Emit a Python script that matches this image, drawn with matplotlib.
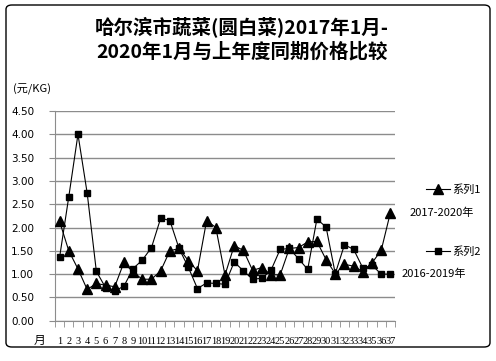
import matplotlib
matplotlib.use("Agg")
import matplotlib.pyplot as plt
from matplotlib.lines import Line2D
from matplotlib.patches import FancyBboxPatch
import numpy as np

plt.rcParams['font.family'] = ['Noto Sans CJK SC', 'DejaVu Sans']

categories = [str(i) for i in range(1, 38)]
series1 = [2.13, 1.50, 1.11, 0.67, 0.80, 0.76, 0.73, 1.25, 1.04, 0.89,
           0.89, 1.07, 1.50, 1.55, 1.29, 1.07, 2.15, 2.00, 0.98, 1.61,
           1.51, 1.08, 1.14, 0.99, 0.98, 1.55, 1.57, 1.69, 1.70, 1.31,
           1.01, 1.21, 1.17, 1.05, 1.24, 1.51, 2.32]
series2 = [1.36, 2.66, 4.00, 2.74, 1.06, 0.71, 0.64, 0.74, 1.12, 1.30,
           1.57, 2.20, 2.15, 1.55, 1.15, 0.69, 0.81, 0.80, 0.78, 1.26,
           1.07, 0.89, 0.91, 1.08, 1.53, 1.55, 1.33, 1.10, 2.18, 2.01,
           1.01, 1.63, 1.53, 1.13, 1.19, 1.00, 1.00]
yticks = [0.0, 0.5, 1.0, 1.5, 2.0, 2.5, 3.0, 3.5, 4.0, 4.5]
title = "哈尔滨市蔬菜(圆白菜)2017年1月-\n2020年1月与上年度同期价格比较"
name1, name2 = "系列1", "系列2"
label1, label2 = "2017-2020年", "2016-2019年"

W, H = 496, 361
fig = plt.figure(figsize=(W / 100, H / 100), dpi=100)
ax = fig.add_axes([55 / W, (H - 320.7) / H, 340 / W, 209.7 / H])

x = np.arange(1, len(categories) + 1)
l1, = ax.plot(x, series1, color='black', lw=0.8, marker='^', markersize=6.5,
              markerfacecolor='black', markeredgecolor='black', zorder=3)
l2, = ax.plot(x, series2, color='black', lw=0.8, marker='s', markersize=5,
              markerfacecolor='black', markeredgecolor='black', zorder=3)

ax.set_xlim(0.5, len(categories) + 0.5)
ax.set_ylim(0, 4.5)
ax.set_yticks(yticks)
ax.set_yticklabels([f"{v:.2f}" for v in yticks], fontsize=7.5, family='DejaVu Sans')
ax.yaxis.grid(True, color='#8c8c8c', lw=1)
ax.set_axisbelow(True)
ax.set_xticks(x)
ax.set_xticklabels(categories, fontsize=7.5, family='Liberation Serif')
ax.set_xticks(np.arange(0.5, len(categories) + 1), minor=True)
ax.tick_params(axis='x', which='major', length=0, pad=12)
ax.tick_params(axis='x', which='minor', length=4, color='#8c8c8c', direction='out')
ax.tick_params(axis='y', length=4, color='#8c8c8c', pad=11)
for s in ['top', 'right']:
    ax.spines[s].set_visible(False)
for s in ['left', 'bottom']:
    ax.spines[s].set_color('#8c8c8c')
ax.text(-0.6, -0.42, "月", transform=ax.transData, fontsize=8.5, ha='right', va='center')

ax.annotate(label1, (x[-1], series1[-1]), xytext=(14, 0), textcoords='offset points',
            fontsize=8, va='center', ha='left')
ax.annotate(label2, (x[-1], series2[-1]), xytext=(8, 0), textcoords='offset points',
            fontsize=8, va='center', ha='left')

leg1 = fig.legend([l1], [name1], loc='center left', bbox_to_anchor=(420 / W, 1 - 190 / H),
                  frameon=False, fontsize=8, handlelength=2.2, handletextpad=0.2,
                  borderpad=0)
leg2 = fig.legend([l2], [name2], loc='center left', bbox_to_anchor=(420 / W, 1 - 252 / H),
                  frameon=False, fontsize=8, handlelength=2.2, handletextpad=0.2,
                  borderpad=0)

fig.text(242 / W, 1 - 39 / H, title, ha='center', va='center', fontsize=14,
         fontweight='bold', linespacing=1.3)
fig.text(13 / W, 1 - 89 / H, "(元/KG)", ha='left', va='center', fontsize=8)

border = FancyBboxPatch((6 / W, 14 / H), 484 / W, 342 / H, boxstyle="round,pad=0,rounding_size=0.012",
                        transform=fig.transFigure, fill=False, ec='black', lw=1)
fig.patches.append(border)

fig.savefig("out.png", dpi=100)
